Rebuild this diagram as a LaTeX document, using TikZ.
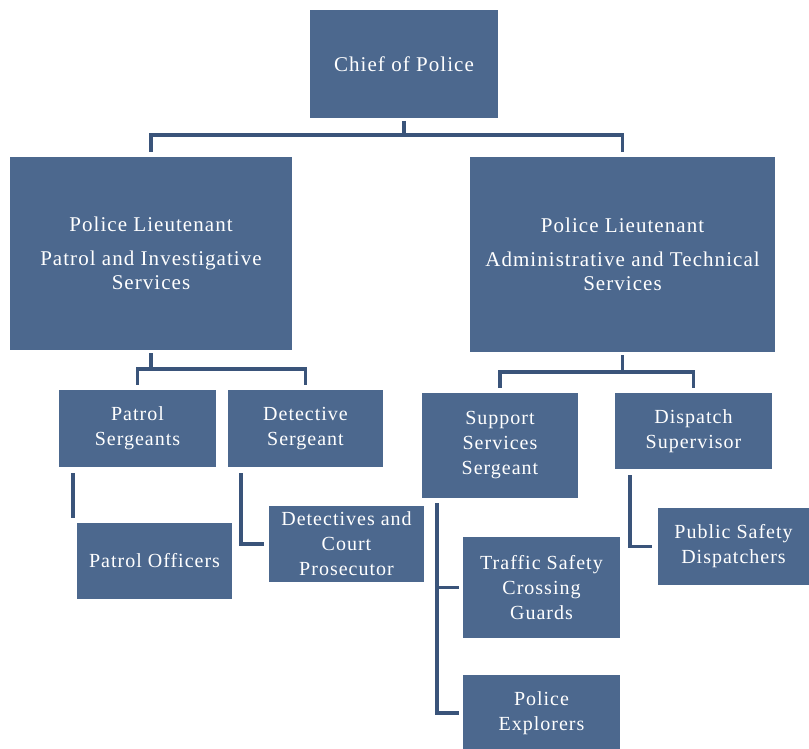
\documentclass[tikz,border=0pt]{standalone}
\usepackage{fontspec}
\setmainfont{Liberation Serif}
\newfontfamily\orgfont[LetterSpace=5]{Liberation Serif}
\definecolor{boxblue}{RGB}{76,104,142}
\definecolor{lineblue}{RGB}{58,84,122}
\tikzset{
  post/.style={fill=boxblue, text=white, align=center, inner sep=2pt, outer sep=0pt,
    font=\orgfont\fontsize{20}{25}\selectfont},
  bigpost/.style={post, font=\orgfont\fontsize{21}{24}\selectfont},
  chain/.style={draw=lineblue, line width=3.5pt},
}
\begin{document}
\begin{tikzpicture}[x=1pt,y=-1pt]
\useasboundingbox (0,0) rectangle (809,749);
% top level
\node[bigpost, minimum width=188, minimum height=108] (chief) at (404,64) {Chief of Police};
\node[bigpost, minimum width=282, minimum height=193] (ltL) at (151,253.5)
  {Police Lieutenant\\[10pt] Patrol and Investigative\\ Services};
\node[bigpost, minimum width=305, minimum height=195] (ltR) at (622.5,254.5)
  {Police Lieutenant\\[10pt] Administrative and Technical\\ Services};
% sergeants
\node[post, minimum width=157, minimum height=77] (psgt) at (137.5,428.5) {Patrol\\ Sergeants};
\node[post, minimum width=155, minimum height=77] (dsgt) at (305.5,428.5) {Detective\\ Sergeant};
\node[post, minimum width=156, minimum height=105] (ssgt) at (500,445.5) {Support\\ Services\\ Sergeant};
\node[post, minimum width=157, minimum height=76] (dsup) at (693.5,431) {Dispatch\\ Supervisor};
% staff
\node[post, minimum width=155, minimum height=76] (pofc) at (154.5,561) {Patrol Officers};
\node[post, minimum width=155, minimum height=76] (dets) at (346.5,544) {Detectives and\\ Court\\ Prosecutor};
\node[post, minimum width=157, minimum height=101] (tscg) at (541.5,587.5) {Traffic Safety\\ Crossing\\ Guards};
\node[post, minimum width=157, minimum height=76] (pexp) at (541.5,713) {Police\\ Explorers};
\node[post, minimum width=151, minimum height=77] (psd) at (733.5,546.5) {Public Safety\\ Dispatchers};
% connectors
\draw[chain, shorten <=3pt] (chief.south) -- ++(0,17) coordinate (topbar);
\draw[chain, shorten >=5pt] (topbar) -| (ltL.north);
\draw[chain, shorten >=5pt] (topbar) -| (ltR.north);
\draw[chain, shorten <=3pt] (ltL.south) -- ++(0,19) coordinate (leftbar);
\draw[chain, shorten >=5pt] (leftbar) -| (psgt.north);
\draw[chain, shorten >=5pt] (leftbar) -| (dsgt.north);
\draw[chain, shorten <=3pt] (ltR.south) -- ++(0,20) coordinate (rightbar);
\draw[chain, shorten >=5pt] (rightbar) -| (ssgt.north);
\draw[chain, shorten >=5pt] (rightbar) -| (dsup.north);
\coordinate (poend) at (73,518);
\draw[chain, shorten <=6pt] (psgt.south -| poend) -- (poend);
\draw[chain, shorten <=6pt, shorten >=5pt] ([xshift=13pt]dsgt.south west) |- (dets.west);
\draw[chain, shorten <=5pt, shorten >=4pt] ([xshift=15pt]ssgt.south west) |- (tscg.west);
\draw[chain, shorten <=5pt, shorten >=4pt] ([xshift=15pt]ssgt.south west) |- (pexp.west);
\draw[chain, shorten <=6pt, shorten >=6pt] ([xshift=15pt]dsup.south west) |- (psd.west);
\end{tikzpicture}
\end{document}
